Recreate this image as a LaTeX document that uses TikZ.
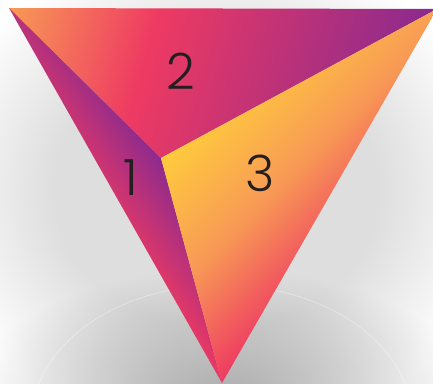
\documentclass[tikz,border=0pt]{standalone}
\usepackage{fontspec}
\usetikzlibrary{fadings}
\newfontfamily\digitfont{Poppins Light}

\definecolor{pyorange}{HTML}{F89A56}
\definecolor{pypink}{HTML}{EE3A62}
\definecolor{pypurple}{HTML}{8B2A8E}
\definecolor{pyyellow}{HTML}{FFCB3C}
\definecolor{floorgray}{HTML}{DEDEDE}
\definecolor{shadowgray}{HTML}{8F8D8D}
\definecolor{numgray}{HTML}{231F20}

% face shadings; a square shaded path maps 25bp..75bp onto its side
\pgfdeclarehorizontalshading{topface}{100bp}{color(0bp)=(pyorange); color(24.5bp)=(pyorange); color(41bp)=(pypink); color(71bp)=(pypurple); color(100bp)=(pypurple)}
\pgfdeclarehorizontalshading{leftface}{100bp}{color(0bp)=(pypink); color(46.5bp)=(pypink); color(57bp)=(pypurple); color(100bp)=(pypurple)}
\pgfdeclarehorizontalshading{rightface}{100bp}{color(0bp)=(pyyellow); color(35.8bp)=(pyyellow); color(47bp)=(pyorange); color(58.2bp)=(pypink); color(100bp)=(pypink)}
\pgfdeclareradialshading{floorglow}{\pgfpoint{0bp}{0bp}}{color(0bp)=(floorgray); color(14bp)=(floorgray); color(25bp)=(white); color(50bp)=(white)}
\tikzfading[name=softshadow, inner color=transparent!0, outer color=transparent!100]

\begin{document}
\begin{tikzpicture}[x=1pt, y=-1pt,
    face/.style={shading=#1},
    facenum/.style={font=\digitfont\fontsize{50}{50}\selectfont,
        text=numgray, inner sep=0pt}
  ]
  \useasboundingbox (0,0) rectangle (433,383);
  % floor and shadow
  \fill[white] (0,0) rectangle (433,383);
  \shade[shading=floorglow] (216,190) ellipse (290 and 250);
  \fill[shadowgray, fill opacity=0.7, path fading=softshadow]
    (222,400) ellipse (255 and 130);
  \draw[white, opacity=0.5, line width=0.5pt] (222,420) ellipse (190 and 135);

  % corners of the pyramid
  \coordinate (A) at (9,8);
  \coordinate (B) at (437,9);
  \coordinate (C) at (161,158);
  \coordinate (D) at (222,383);

  % each face is shaded through a square, then clipped
  \begin{scope}
    \clip (A) -- (B) -- (C) -- cycle;
    \shade[face=topface, shading angle=-16] (0,-135) rectangle (440,305);
  \end{scope}
  \begin{scope}
    \clip (A) -- (C) -- (D) -- cycle;
    \shade[face=leftface, shading angle=35] (-80,-5) rectangle (320,395);
  \end{scope}
  \begin{scope}
    \clip (C) -- (B) -- (D) -- cycle;
    \shade[face=rightface, shading angle=-45] (75,-25) rectangle (525,425);
  \end{scope}

  \node[facenum] (one) at (131,178) {1};
  \node[facenum] (two) at (181,71) {2};
  \node[facenum] (three) at (260,173) {3};
\end{tikzpicture}
\end{document}
